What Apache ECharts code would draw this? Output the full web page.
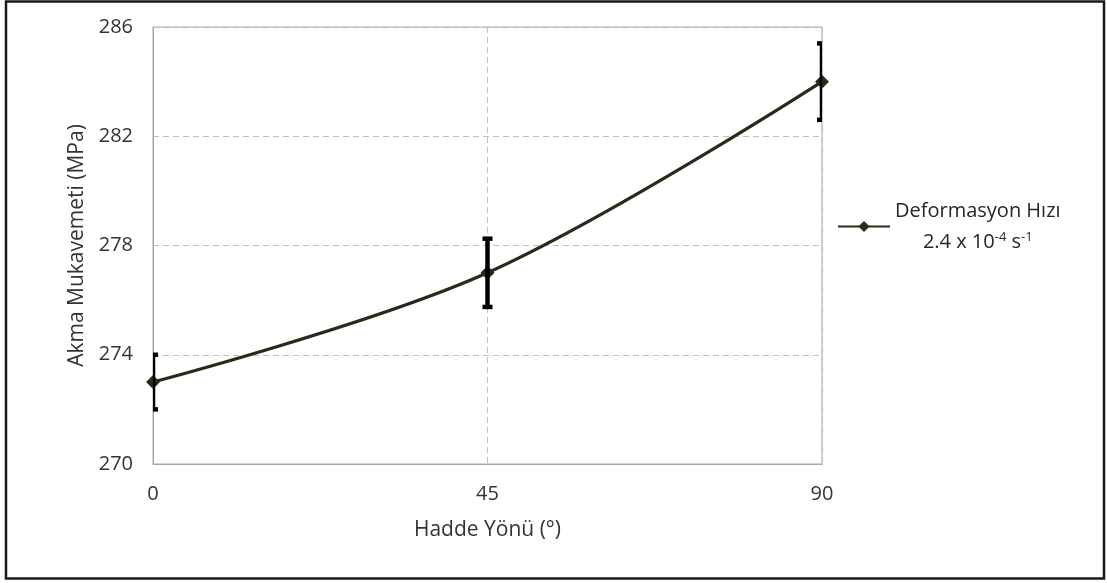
<!DOCTYPE html>
<html>
<head>
<meta charset="utf-8">
<script src="https://cdn.jsdelivr.net/npm/echarts@6/dist/echarts.min.js"></script>
<style>
  html, body { margin: 0; padding: 0; background: #fff; }
  #chart { width: 1107px; height: 583px; }
</style>
</head>
<body>
<div id="chart"></div>
<script>
// Rolling direction (degrees) vs. yield strength, with error bars
const directions = [0, 45, 90];
const yieldStrength = [273, 277, 284];
const errorHalf = [1.0, 1.25, 1.4];
const yTicks = { min: 270, max: 286, step: 4 };
const seriesName = 'Deformasyon Hızı';

const FONT = '"Open Sans", sans-serif';
const TEXT = '#333333';
const LINE = '#2b2a1a';

const chart = echarts.init(document.getElementById('chart'), null, { renderer: 'canvas' });

const errData = directions.map((d, i) => [d, yieldStrength[i] - errorHalf[i], yieldStrength[i] + errorHalf[i]]);

chart.setOption({
  backgroundColor: '#fff',
  animation: false,
  textStyle: { fontFamily: FONT },
  graphic: [{
    type: 'rect',
    shape: { x: 6, y: 1.5, width: 1098, height: 577 },
    style: { fill: 'none', stroke: '#1a1a1a', lineWidth: 2.5 },
    silent: true, z: 100
  }],
  grid: {
    left: 153, top: 27, right: 285, bottom: 119,
    show: true, borderColor: '#a6a6a6', borderWidth: 1
  },
  legend: {
    orient: 'vertical',
    left: 832, top: 196,
    itemWidth: 52, itemHeight: 14, itemGap: 0,
    data: [seriesName],
    formatter: () => '{a|Deformasyon Hızı}\n{b|2.4 x 10}{s|-4}{b| s}{s|-1}',
    textStyle: {
      fontFamily: FONT,
      color: '#262626',
      rich: {
        a: { fontSize: 20, lineHeight: 31, align: 'center', fontFamily: FONT, color: '#262626' },
        b: { fontSize: 20, lineHeight: 31, align: 'center', fontFamily: FONT, color: '#262626' },
        s: { fontSize: 13, lineHeight: 31, align: 'center', verticalAlign: 'top', padding: [4, 0, 0, 0], fontFamily: FONT, color: '#262626' }
      }
    }
  },
  xAxis: {
    type: 'value',
    min: 0, max: 90, interval: 45,
    name: 'Hadde Yönü (°)',
    nameLocation: 'middle',
    nameGap: 56,
    nameTextStyle: { fontSize: 21, color: TEXT, fontFamily: FONT },
    axisLine: { show: true, lineStyle: { color: '#a6a6a6', width: 1 } },
    axisTick: { show: false },
    axisLabel: { fontSize: 20, color: TEXT, margin: 20, fontFamily: FONT },
    splitLine: { show: true, lineStyle: { color: '#bfbfbf', type: [6, 4], width: 1 } }
  },
  yAxis: {
    type: 'value',
    min: yTicks.min, max: yTicks.max, interval: yTicks.step,
    name: 'Akma Mukavemeti (MPa)',
    nameLocation: 'middle',
    nameGap: 64,
    nameTextStyle: { fontSize: 21, color: TEXT, fontFamily: FONT },
    axisLine: { show: true, lineStyle: { color: '#a6a6a6', width: 1 } },
    axisTick: { show: false },
    axisLabel: { fontSize: 20, color: TEXT, margin: 20, fontFamily: FONT },
    splitLine: { show: true, lineStyle: { color: '#bfbfbf', type: [6, 4], width: 1 } }
  },
  series: [
    {
      name: seriesName,
      type: 'line',
      smooth: 0.35,
      data: directions.map((d, i) => [d, yieldStrength[i]]),
      symbol: 'diamond',
      symbolSize: 14,
      lineStyle: { color: LINE, width: 3.2 },
      itemStyle: { color: LINE },
      z: 3
    },
    {
      name: 'error',
      type: 'custom',
      clip: true,
      data: errData,
      z: 4,
      renderItem: (params, api) => {
        const x = api.value(0);
        const lo = api.coord([x, api.value(1)]);
        const hi = api.coord([x, api.value(2)]);
        const cap = 5;
        const style = { stroke: '#000', lineWidth: 4.5, fill: 'none' };
        return {
          type: 'group',
          children: [
            { type: 'line', shape: { x1: lo[0], y1: lo[1], x2: hi[0], y2: hi[1] }, style },
            { type: 'line', shape: { x1: hi[0] - cap, y1: hi[1], x2: hi[0] + cap, y2: hi[1] }, style },
            { type: 'line', shape: { x1: lo[0] - cap, y1: lo[1], x2: lo[0] + cap, y2: lo[1] }, style }
          ]
        };
      }
    }
  ]
});
</script>
</body>
</html>
